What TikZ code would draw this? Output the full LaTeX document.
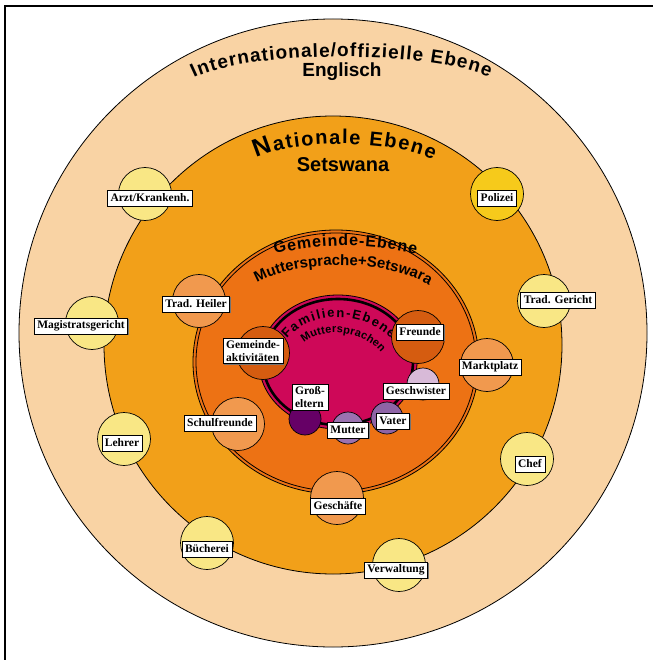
\documentclass[tikz,border=0pt]{standalone}
\usepackage{fontspec}
\setmainfont{Liberation Serif}
\newfontfamily\headfont{Liberation Sans}
\usetikzlibrary{decorations.text,shadows}

\definecolor{intl}{RGB}{249,211,164}
\definecolor{natl}{RGB}{242,160,25}
\definecolor{comm}{RGB}{237,114,20}
\definecolor{fam}{RGB}{206,8,88}
\definecolor{paleyellow}{RGB}{249,231,133}
\definecolor{gold}{RGB}{246,202,27}
\definecolor{lightorange}{RGB}{241,153,78}
\definecolor{darkorange}{RGB}{213,92,16}
\definecolor{lilac}{RGB}{216,186,216}
\definecolor{violet}{RGB}{142,100,166}
\definecolor{lightviolet}{RGB}{155,114,176}
\definecolor{plum}{RGB}{102,0,102}

\newcommand{\headsize}[1]{\headfont\bfseries\fontsize{#1}{#1}\selectfont}

\tikzset{
  ring/.style={draw=black, line width=0.8pt},
  place/.style={circle, draw=black, line width=0.7pt, inner sep=0pt, minimum size=#1},
  place/.default=53pt,
  tag/.style={draw=black, fill=white, line width=0.6pt,
    font=\bfseries\fontsize{11.5}{13.5}\selectfont,
    inner xsep=3pt, inner ysep=2pt, minimum height=16pt,
    drop shadow={shadow xshift=1pt, shadow yshift=-1pt, fill=black!55, opacity=1}},
  arctext/.style={decorate, decoration={text along path, text align={fit to path}, text={#1}}},
  title/.style={anchor=base, font=\headsize{#1}},
}

\begin{document}
\begin{tikzpicture}[x=1pt,y=-1pt]
\useasboundingbox (0,0) rectangle (653,660);
\fill[white] (0,0) rectangle (653,660);
\draw[line width=1.8pt] (5,660) -- (5,6) -- (653,6);

% nested levels
\filldraw[ring, fill=intl] (333,333) circle[radius=314];
\filldraw[ring, fill=natl] (333,345) circle[radius=229];
\filldraw[ring, fill=comm] (336,362) ellipse[x radius=143, y radius=132];
\draw[ring] (336,362) ellipse[x radius=140, y radius=129];
\filldraw[ring, fill=fam] (338,362) ellipse[x radius=79, y radius=67];
\draw[line width=2.6pt] (338,362) ellipse[x radius=75, y radius=63];

% level titles
\path[arctext={|\headsize{19}|Internationale/offizielle Ebene}]
  (194,78) .. controls (250,50) and (430,50) .. (489,77);
\node[title=19] (english) at (342,77) {Englisch};

\path[arctext={|\headsize{25}|N|\headsize{20}|ationale Ebene}]
  (256,158) .. controls (290,140) and (390,138) .. (433,160);
\node[title=20] (setswana) at (343,172) {Setswana};

\path[arctext={|\headsize{16}|Gemeinde-Ebene}]
  (275,254) .. controls (320,243) and (370,243) .. (416,254);
\path[arctext={|\headsize{15}|Muttersprache+Setswara}]
  (257,283) .. controls (300,259) and (385,259) .. (429,285);

\path[arctext={|\headsize{13}|Familien-Ebene}]
  (287,339) .. controls (311,310) and (365,310) .. (391,339);
\path[arctext={|\headsize{11}|Muttersprachen}]
  (304,343) .. controls (318,329) and (360,327) .. (381,353);

% places
\node[place, fill=paleyellow] (arztC) at (145,194) {};
\node[place, fill=gold] (polC) at (497,194) {};
\node[place, fill=paleyellow] (gerC) at (544,301) {};
\node[place, fill=paleyellow] (magC) at (92,323) {};
\node[place, fill=paleyellow] (lehC) at (124,439) {};
\node[place, fill=paleyellow] (bueC) at (207,543) {};
\node[place, fill=paleyellow] (verC) at (399,565) {};
\node[place, fill=paleyellow] (chefC) at (527,459) {};

\node[place, fill=lightorange] (heilC) at (199,301) {};
\node[place, fill=lightorange] (marktC) at (487,365) {};
\node[place, fill=lightorange] (schulC) at (238,424) {};
\node[place, fill=lightorange] (geschC) at (337,498) {};

\node[place, fill=darkorange] (aktC) at (263,353) {};
\node[place, fill=darkorange] (freuC) at (418,337) {};

\node[place=32pt, fill=lilac] (geswC) at (423,384) {};
\node[place=32pt, fill=violet] (vatC) at (387,418) {};
\node[place=32pt, fill=lightviolet] (mutC) at (348,428) {};
\node[place=32pt, fill=plum] (grossC) at (305,419) {};

% labels
\node[tag] (arzt) at (150,198) {Arzt/Krankenh.};
\node[tag] (pol) at (497,198) {Polizei};
\node[tag] (ger) at (558,300) {Trad. Gericht};
\node[tag] (mag) at (81,326) {Magistratsgericht};
\node[tag] (leh) at (122,443) {Lehrer};
\node[tag] (bue) at (207,549) {Bücherei};
\node[tag] (ver) at (396,570) {Verwaltung};
\node[tag] (chef) at (530,464) {Chef};

\node[tag] (heil) at (196,304) {Trad. Heiler};
\node[tag] (markt) at (490,367) {Marktplatz};
\node[tag] (schul) at (220,423) {Schulfreunde};
\node[tag] (gesch) at (338,506) {Geschäfte};

\node[tag, align=left] (akt) at (253,351) {Gemeinde-\\aktivitäten};
\node[tag] (freu) at (420,332) {Freunde};

\node[tag] (gesw) at (416,391) {Geschwister};
\node[tag] (vat) at (393,421) {Vater};
\node[tag] (mut) at (348,430) {Mutter};
\node[tag, align=left] (gross) at (310,397) {Groß-\\eltern};
\end{tikzpicture}
\end{document}
